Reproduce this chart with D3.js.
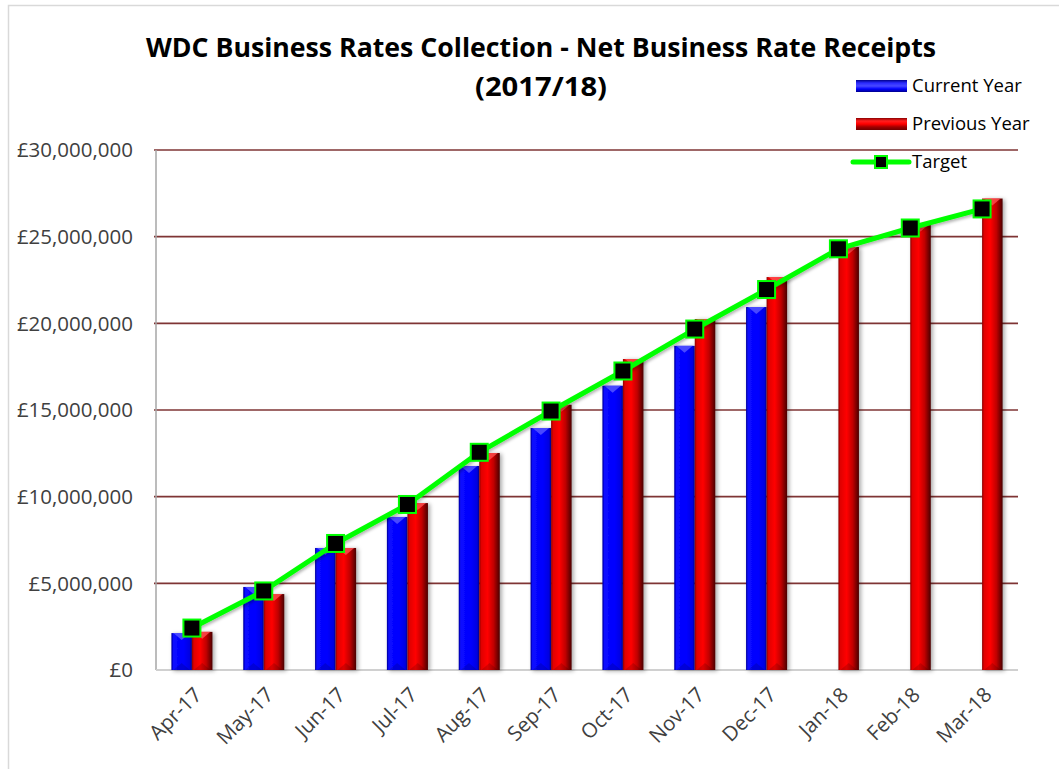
<!DOCTYPE html>
<html>
<head>
<meta charset="utf-8">
<script src="https://cdn.jsdelivr.net/npm/d3@7"></script>
<style>
  html, body { margin: 0; padding: 0; background: #fff; }
  svg { display: block; }
</style>
</head>
<body>
<svg id="chart" width="1059" height="769"></svg>
<script>
const months = ["Apr-17","May-17","Jun-17","Jul-17","Aug-17","Sep-17","Oct-17","Nov-17","Dec-17","Jan-18","Feb-18","Mar-18"];
const currentYear = [2130000, 4790000, 7040000, 8830000, 11770000, 13960000, 16400000, 18700000, 20940000, null, null, null];
const previousYear = [2200000, 4380000, 7040000, 9630000, 12520000, 15300000, 17940000, 20250000, 22670000, 24400000, 25700000, 27200000];
const target = [2420000, 4560000, 7300000, 9550000, 12560000, 14940000, 17250000, 19670000, 21950000, 24300000, 25500000, 26600000];
const yTicks = [0, 5000000, 10000000, 15000000, 20000000, 25000000, 30000000];
const seriesNames = ["Current Year", "Previous Year", "Target"];
const titleLines = ["WDC Business Rates Collection - Net Business Rate Receipts", "(2017/18)"];

const svg = d3.select("#chart");
const W = 1059, H = 769;
const m = { left: 156, right: 1018, top: 150, bottom: 670 };
const font = "'Open Sans', 'Noto Sans', sans-serif";

const defs = svg.append("defs");
function hGrad(id, stops) {
  const g = defs.append("linearGradient").attr("id", id).attr("x1", "0").attr("x2", "1").attr("y1", "0").attr("y2", "0");
  stops.forEach(s => g.append("stop").attr("offset", s[0]).attr("stop-color", s[1]));
}
function vGrad(id, stops) {
  const g = defs.append("linearGradient").attr("id", id).attr("x1", "0").attr("x2", "0").attr("y1", "0").attr("y2", "1");
  stops.forEach(s => g.append("stop").attr("offset", s[0]).attr("stop-color", s[1]));
}
hGrad("gBlue", [["0", "#00009a"], ["0.1", "#0a0aff"], ["0.6", "#0000ff"], ["0.9", "#0000e0"], ["1", "#00008a"]]);
hGrad("gRed", [["0", "#8a0000"], ["0.1", "#e00000"], ["0.4", "#ff0000"], ["0.7", "#c00000"], ["1", "#4a0000"]]);
vGrad("gBlueL", [["0", "#00008a"], ["0.25", "#2a2aff"], ["0.5", "#4848ff"], ["0.75", "#0000ff"], ["1", "#00008a"]]);
vGrad("gRedL", [["0", "#8a0000"], ["0.25", "#ff2020"], ["0.5", "#ff0000"], ["0.75", "#a00000"], ["1", "#700000"]]);
const f = defs.append("filter").attr("id", "shadow").attr("x", "-30%").attr("y", "-10%").attr("width", "170%").attr("height", "130%");
f.append("feDropShadow").attr("dx", 2).attr("dy", 1).attr("stdDeviation", 2).attr("flood-color", "#000").attr("flood-opacity", 0.35);
const fl = defs.append("filter").attr("id", "lshadow").attr("x", "-10%").attr("y", "-10%").attr("width", "120%").attr("height", "130%");
fl.append("feDropShadow").attr("dx", 1).attr("dy", 2).attr("stdDeviation", 1.5).attr("flood-color", "#000").attr("flood-opacity", 0.3);

// outer chart border
svg.append("rect").attr("x", 8.5).attr("y", 5.5).attr("width", W).attr("height", H)
  .attr("fill", "none").attr("stroke", "#d9d9d9").attr("stroke-width", 1.5);

const x0 = d3.scaleBand().domain(months).range([m.left, m.right]).padding(0);
const x1 = d3.scaleBand().domain(["cur", "prev"]).range([0, x0.bandwidth()]).paddingOuter(0.75).paddingInner(0);
const y = d3.scaleLinear().domain([0, 30000000]).range([m.bottom, m.top]);

// gridlines
svg.append("g").selectAll("line").data(yTicks.filter(d => d > 0)).join("line")
  .attr("x1", m.left - 2).attr("x2", m.right).attr("y1", d => y(d)).attr("y2", d => y(d))
  .attr("stroke", "#7f3434").attr("stroke-width", 1.6);

// y axis labels
const fmt = d => "£" + d3.format(",")(d);
svg.append("g").selectAll("text").data(yTicks).join("text")
  .attr("x", 133).attr("y", d => y(d)).attr("dy", "0.36em")
  .attr("text-anchor", "end").attr("font-family", font).attr("font-size", 20.5).attr("fill", "#404040")
  .text(fmt);

// axis lines
svg.append("line").attr("x1", m.left).attr("x2", m.left).attr("y1", m.top).attr("y2", m.bottom)
  .attr("stroke", "#a6a6a6").attr("stroke-width", 1.5);
svg.append("line").attr("x1", m.left).attr("x2", m.right).attr("y1", m.bottom).attr("y2", m.bottom)
  .attr("stroke", "#d0d0d0").attr("stroke-width", 2);

// bars
function drawBars(vals, key, grad, capColor) {
  const data = months.map((mo, i) => ({ mo, v: vals[i] })).filter(d => d.v != null);
  const g = svg.append("g");
  const bw = x1.bandwidth();
  g.selectAll("rect").data(data).join("rect")
    .attr("x", d => x0(d.mo) + x1(key)).attr("y", d => y(d.v))
    .attr("width", bw).attr("height", d => y(0) - y(d.v))
    .attr("fill", `url(#${grad})`).attr("filter", "url(#shadow)");
  g.selectAll("path.cap").data(data).join("path").attr("class", "cap")
    .attr("d", d => {
      const xl = x0(d.mo) + x1(key), yt = y(d.v);
      return `M${xl + 2},${yt} L${xl + bw - 2},${yt} L${xl + bw / 2},${yt + 7} Z`;
    })
    .attr("fill", capColor).attr("opacity", 0.8);
  g.selectAll("path.foot").data(data).join("path").attr("class", "foot")
    .attr("d", d => {
      const xl = x0(d.mo) + x1(key), yb = y(0);
      return `M${xl + 2},${yb} L${xl + bw - 2},${yb} L${xl + bw / 2},${yb - 7} Z`;
    })
    .attr("fill", "#000").attr("opacity", 0.15);
}
drawBars(currentYear, "cur", "gBlue", "#5a5aff");
drawBars(previousYear, "prev", "gRed", "#ff5050");

// target line
const cx = mo => x0(mo) + x0.bandwidth() / 2;
const line = d3.line().x((d, i) => cx(months[i])).y(d => y(d));
svg.append("path").datum(target).attr("d", line).attr("fill", "none")
  .attr("stroke", "#00ff00").attr("stroke-width", 5).attr("stroke-linejoin", "round").attr("filter", "url(#lshadow)");
const ms = 17;
svg.append("g").selectAll("rect").data(target).join("rect")
  .attr("x", (d, i) => cx(months[i]) - ms / 2).attr("y", d => y(d) - ms / 2)
  .attr("width", ms).attr("height", ms)
  .attr("fill", "#000").attr("stroke", "#00ff00").attr("stroke-width", 2);

// x axis labels
svg.append("g").selectAll("text").data(months).join("text")
  .attr("transform", d => `translate(${cx(d) + 6},${m.bottom + 21}) rotate(-45)`)
  .attr("text-anchor", "end").attr("dy", "0.35em")
  .attr("font-family", font).attr("font-size", 20.5).attr("fill", "#404040")
  .text(d => d);

// title
svg.append("text").attr("x", 541).attr("y", 57).attr("text-anchor", "middle")
  .attr("font-family", font).attr("font-weight", "bold").attr("font-size", 27).attr("fill", "#000")
  .attr("textLength", 790).attr("lengthAdjust", "spacingAndGlyphs").text(titleLines[0]);
svg.append("text").attr("x", 541).attr("y", 96).attr("text-anchor", "middle")
  .attr("font-family", font).attr("font-weight", "bold").attr("font-size", 27).attr("fill", "#000")
  .attr("textLength", 132).attr("lengthAdjust", "spacingAndGlyphs").text(titleLines[1]);

// legend
const lg = svg.append("g");
const lx = 856, lys = [86, 124, 162];
lg.append("rect").attr("x", lx).attr("y", lys[0] - 6).attr("width", 51).attr("height", 12).attr("fill", "url(#gBlueL)");
lg.append("rect").attr("x", lx).attr("y", lys[1] - 6).attr("width", 51).attr("height", 12).attr("fill", "url(#gRedL)");
lg.append("line").attr("x1", lx - 3).attr("x2", lx + 53).attr("y1", lys[2]).attr("y2", lys[2])
  .attr("stroke", "#00ff00").attr("stroke-width", 5).attr("stroke-linecap", "round");
lg.append("rect").attr("x", lx + 25 - 6).attr("y", lys[2] - 6).attr("width", 12).attr("height", 12)
  .attr("fill", "#000").attr("stroke", "#00ff00").attr("stroke-width", 2);
lg.selectAll("text").data(seriesNames).join("text")
  .attr("x", 912).attr("y", (d, i) => lys[i]).attr("dy", "0.35em")
  .attr("font-family", font).attr("font-size", 18.5).attr("fill", "#000")
  .text(d => d);
</script>
</body>
</html>
